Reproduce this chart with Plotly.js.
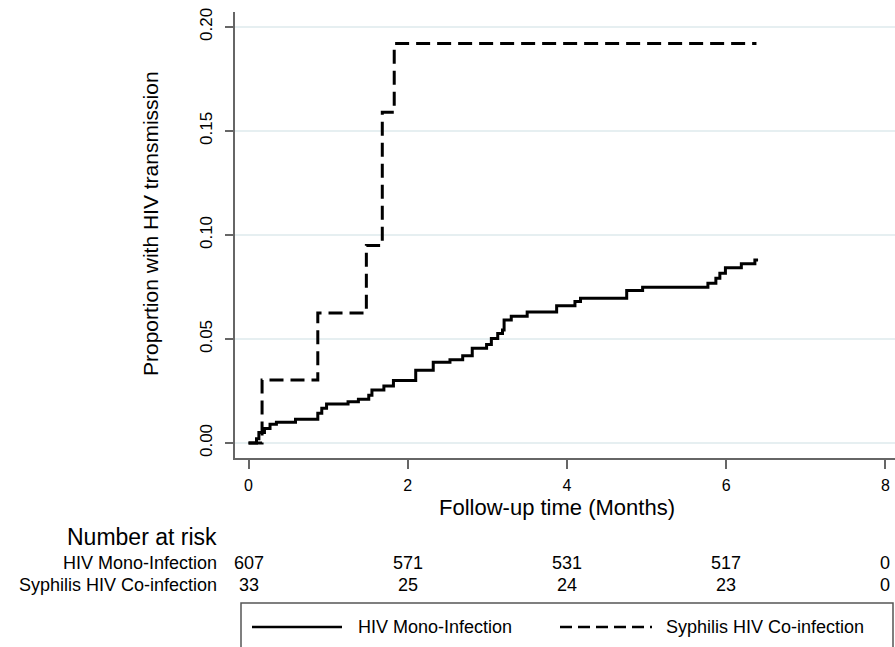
<!DOCTYPE html>
<html>
<head>
<meta charset="utf-8">
<script src="https://cdn.plot.ly/plotly-3.0.1.min.js"></script>
<style>html,body{margin:0;padding:0;background:#fff;}#chart{width:895px;height:647px;}</style>
</head>
<body>
<div id="chart"></div>
<script>
// ---- Data ----
const monoTime = [0, 0.10, 0.13, 0.20, 0.27, 0.35, 0.59, 0.87, 0.92, 0.98, 1.25, 1.38, 1.51, 1.55, 1.70, 1.82,
                  2.10, 2.32, 2.53, 2.69, 2.81, 2.99, 3.05, 3.13, 3.19, 3.21, 3.30, 3.50, 3.87,
                  4.10, 4.17, 4.75, 4.95, 5.77, 5.87, 5.92, 5.99, 6.19, 6.36, 6.40];
const monoProp = [0, 0.002, 0.005, 0.007, 0.009, 0.010, 0.0114, 0.0143, 0.0167, 0.0187, 0.0199, 0.021, 0.023, 0.0255, 0.0274, 0.030,
                  0.035, 0.0388, 0.040, 0.042, 0.0455, 0.0474, 0.0503, 0.0527, 0.0543, 0.0591, 0.061, 0.063, 0.066,
                  0.068, 0.0696, 0.0733, 0.0749, 0.0768, 0.0792, 0.0816, 0.0842, 0.0862, 0.088, 0.088];
const syphTime = [0, 0.17, 0.87, 1.48, 1.68, 1.83, 6.38];
const syphProp = [0, 0.0303, 0.0625, 0.0949, 0.159, 0.192, 0.192];

const seriesNames = ["HIV Mono-Infection", "Syphilis HIV Co-infection"];
const xTicks = [0, 2, 4, 6, 8];
const yTicks = [0, 0.05, 0.10, 0.15, 0.20];
const riskTimes = [0, 2, 4, 6, 8];
const riskMono = [607, 571, 531, 517, 0];
const riskSyph = [33, 25, 24, 23, 0];

// ---- Layout helpers ----
const W = 895, H = 647;
const L = 235, R = 895, T = 12, B = 458;
const px = v => (v - L) / (R - L);
const py = v => (B - v) / (B - T);
const FONT = "Liberation Sans, Arial, sans-serif";

const traces = [
  {x: monoTime, y: monoProp, name: seriesNames[0], type: "scatter", mode: "lines",
   line: {shape: "hv", color: "#000", width: 3}, hoverinfo: "x+y"},
  {x: syphTime, y: syphProp, name: seriesNames[1], type: "scatter", mode: "lines",
   line: {shape: "hv", color: "#000", width: 3, dash: "14px,7px"}, hoverinfo: "x+y"}
];

const annotations = [];
// y-axis title
annotations.push({xref: "paper", yref: "paper", x: px(150), y: py(224), text: "Proportion with HIV transmission",
  showarrow: false, textangle: -90, font: {family: FONT, size: 21, color: "#000"}, xanchor: "center", yanchor: "middle"});
// x-axis title
annotations.push({xref: "paper", yref: "paper", x: px(557), y: py(507), text: "Follow-up time (Months)",
  showarrow: false, font: {family: FONT, size: 22, color: "#000"}, xanchor: "center", yanchor: "middle"});
// Number at risk
annotations.push({xref: "paper", yref: "paper", x: px(219), y: py(537), text: "Number at risk",
  showarrow: false, font: {family: FONT, size: 23, color: "#000"}, xanchor: "right", yanchor: "middle"});
annotations.push({xref: "paper", yref: "paper", x: px(219), y: py(563), text: seriesNames[0],
  showarrow: false, font: {family: FONT, size: 18, color: "#000"}, xanchor: "right", yanchor: "middle"});
annotations.push({xref: "paper", yref: "paper", x: px(219), y: py(585), text: seriesNames[1],
  showarrow: false, font: {family: FONT, size: 18, color: "#000"}, xanchor: "right", yanchor: "middle"});
riskTimes.forEach((t, i) => {
  annotations.push({xref: "x", yref: "paper", x: t, y: py(563), text: String(riskMono[i]),
    showarrow: false, font: {family: FONT, size: 18, color: "#000"}, xanchor: "center", yanchor: "middle"});
  annotations.push({xref: "x", yref: "paper", x: t, y: py(585), text: String(riskSyph[i]),
    showarrow: false, font: {family: FONT, size: 18, color: "#000"}, xanchor: "center", yanchor: "middle"});
});
// legend texts
annotations.push({xref: "paper", yref: "paper", x: px(356), y: py(627), text: seriesNames[0],
  showarrow: false, font: {family: FONT, size: 18, color: "#000"}, xanchor: "left", yanchor: "middle"});
annotations.push({xref: "paper", yref: "paper", x: px(664), y: py(627), text: seriesNames[1],
  showarrow: false, font: {family: FONT, size: 18, color: "#000"}, xanchor: "left", yanchor: "middle"});

const shapes = [
  // legend box
  {type: "rect", xref: "paper", yref: "paper", x0: px(241), x1: px(893), y0: py(603), y1: py(662),
   line: {color: "#555", width: 1.5}, fillcolor: "rgba(0,0,0,0)"},
  // legend samples
  {type: "line", xref: "paper", yref: "paper", x0: px(252), x1: px(342), y0: py(627), y1: py(627),
   line: {color: "#000", width: 2.5}},
  {type: "line", xref: "paper", yref: "paper", x0: px(560), x1: px(652), y0: py(627), y1: py(627),
   line: {color: "#000", width: 2.5, dash: "12px,6px"}}
];

const layout = {
  width: W, height: H,
  margin: {l: L, r: W - R, t: T, b: H - B, pad: 0},
  paper_bgcolor: "#fff", plot_bgcolor: "#fff",
  showlegend: false,
  font: {family: FONT, color: "#000"},
  xaxis: {
    range: [-0.17, 8.12], tickvals: xTicks, ticktext: xTicks.map(String),
    showgrid: false, zeroline: false, showline: true, linecolor: "#666", linewidth: 2,
    ticks: "outside", ticklen: 9, tickwidth: 1.5, tickcolor: "#666",
    tickfont: {family: FONT, size: 16, color: "#000"}, ticklabelstandoff: 3
  },
  yaxis: {
    range: [-0.0072, 0.2072], tickvals: yTicks, tickformat: ".2f",
    showgrid: true, gridcolor: "#e6eff1", gridwidth: 1.5, zeroline: false,
    showline: true, linecolor: "#666", linewidth: 2,
    ticks: "outside", ticklen: 8, tickwidth: 1.5, tickcolor: "#666", tickangle: -90,
    tickfont: {family: FONT, size: 17, color: "#000"}, ticklabelstandoff: 6
  },
  annotations: annotations,
  shapes: shapes
};

Plotly.newPlot("chart", traces, layout, {displayModeBar: false, responsive: false});
</script>
</body>
</html>
